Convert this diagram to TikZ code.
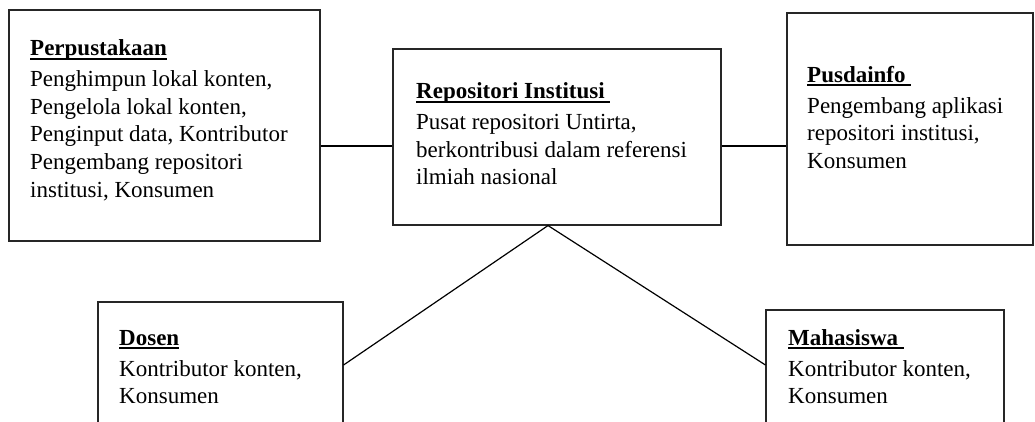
\documentclass[tikz,border=0pt]{standalone}
\usepackage{fontspec}
\setmainfont{Liberation Serif}
\newcommand\ttl[1]{\setbox0\hbox{\bfseries #1}\rlap{\rule[-4.3pt]{\wd0}{2pt}}\box0}
\newcommand\blk[1]{\vtop{\baselineskip=27.7pt\lineskiplimit=-20pt\halign{##\hfil\cr #1\crcr}}}
\newcommand\gap{\noalign{\vskip3.3pt}}
\begin{document}
\begin{tikzpicture}[x=1pt,y=-1pt,
  box/.style={draw=black!85, line width=1.1pt, rectangle, inner sep=0pt},
  txt/.style={anchor=base west, inner sep=0pt,
    font=\fontsize{23pt}{27.7pt}\selectfont},
  link/.style={draw=black, line width=1.2pt}]
\clip (0,0) rectangle (1035,421);
\fill[white] (0,0) rectangle (1035,421);
\node[box, minimum width=311pt, minimum height=231pt] (perp) at (164.5,125.5) {};
\node[box, minimum width=328pt, minimum height=176pt] (repo) at (557,137) {};
\node[box, minimum width=246pt, minimum height=232pt] (pusd) at (910,129) {};
\node[box, minimum width=245pt, minimum height=138pt] (dosen) at (220.5,371) {};
\node[box, minimum width=238pt, minimum height=130pt] (maha) at (885,375) {};

\node[txt] (perpT) at (30,55.5) {\blk{\ttl{Perpustakaan}\cr\gap
Penghimpun lokal konten,\cr Pengelola lokal konten,\cr Penginput data, Kontributor\cr Pengembang repositori\cr institusi, Konsumen}};
\node[txt] (repoT) at (416,98.5) {\blk{\ttl{Repositori Institusi\ }\cr\gap
Pusat repositori Untirta,\cr berkontribusi dalam referensi\cr ilmiah nasional}};
\node[txt] (pusdT) at (807,82) {\blk{\ttl{Pusdainfo\ }\cr\gap
Pengembang aplikasi\cr repositori institusi,\cr Konsumen}};
\node[txt] (dosenT) at (119,345) {\blk{\ttl{Dosen}\cr\gap
Kontributor konten,\cr Konsumen}};
\node[txt] (mahaT) at (788,345) {\blk{\ttl{Mahasiswa\ }\cr\gap
Kontributor konten,\cr Konsumen}};

\draw[link] ([yshift=-9pt]repo.west) -- ([yshift=-9pt]repo.west -| perp.east);
\draw[link, line width=2pt] ([yshift=-9pt]repo.east) -- ([yshift=-9pt]repo.east -| pusd.west);
\draw[link] ([xshift=-9pt]repo.south) -- ([yshift=6pt]dosen.east);
\draw[link] ([xshift=-9pt]repo.south) -- ([yshift=10pt]maha.west);
\end{tikzpicture}
\end{document}
